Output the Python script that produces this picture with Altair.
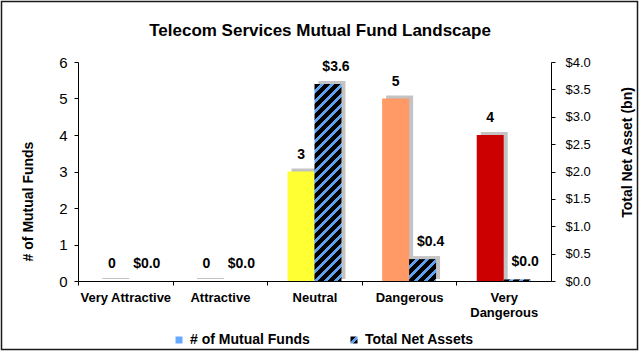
import json
import altair as alt
import pandas as pd

# ---- data ----
categories = ["Very Attractive", "Attractive", "Neutral", "Dangerous", "Very Dangerous"]
fund_counts = [0, 0, 3, 5, 4]
net_assets = [0.0, 0.0, 3.6, 0.4, 0.03]
series_names = ["# of Mutual Funds", "Total Net Assets"]
fund_ticks = [0, 1, 2, 3, 4, 5, 6]
net_ticks = [0, 0.5, 1, 1.5, 2, 2.5, 3, 3.5, 4]
chart_title = "Telecom Services Mutual Fund Landscape"
left_title = "# of Mutual Funds"
right_title = "Total Net Asset (bn)"

# ---- styles ----
FONT = "Liberation Sans"
fund_colors = ["#c8c8c8", "#c8c8c8", "#ffff33", "#ff9966", "#cc0000"]
LEGEND_BLUE = "#66aaff"
HATCH_BLACK = "#000000"
HATCH_BLUE = "#5ea2f0"
SHADOW = "#b4b4b4"

W, H = 473, 219
PAD = {"left": 78, "top": 62, "right": 89, "bottom": 71}
P_INNER = 0.43
FUND_MAX, NET_MAX = 6, 4
SHADOW_DX = 4

funds_df = pd.DataFrame({"category": categories, "series": series_names[0], "value": fund_counts})
net_df = pd.DataFrame({"category": categories, "series": series_names[1], "value": net_assets})

step = W / len(categories)
band_w = step * (1 - P_INNER)
bar_w = band_w / 2


def hatch(w, h, period=10.0, blue=0.4):
    h = max(h, 1.0)
    a = w * (w + h) / (w * w + h * h)
    L = w + h
    stops = []
    p = 0.0
    while p < L:
        s = min(p / L, 1.0)
        b = min((p + period * (1 - blue)) / L, 1.0)
        e = min((p + period) / L, 1.0)
        stops += [
            {"offset": round(s, 5), "color": HATCH_BLACK},
            {"offset": round(b, 5), "color": HATCH_BLACK},
            {"offset": round(b, 5), "color": HATCH_BLUE},
            {"offset": round(e, 5), "color": HATCH_BLUE},
        ]
        p += period
    return {"gradient": "linear", "x1": 0, "y1": 0, "x2": round(a, 5),
            "y2": round(a * h / w, 5), "stops": stops}


legend_grad_expr = json.dumps(hatch(7, 7, period=9.0, blue=0.35))

color_scale = alt.Scale(domain=series_names, range=[LEGEND_BLUE, {"expr": legend_grad_expr}])
legend = alt.Legend(
    title=None, orient="none", legendX=94, legendY=271, direction="horizontal",
    symbolType="square", symbolSize=49, symbolStrokeWidth=0,
    labelFont=FONT, labelFontSize=14, labelFontWeight="bold", labelColor="#000000",
    labelOffset=4, columnPadding=37,
)

fund_cond = [{"test": f"datum.category === {json.dumps(c)}", "value": col}
             for c, col in zip(categories, fund_colors)]
net_cond = [{"test": f"datum.category === {json.dumps(c)}",
             "value": hatch(bar_w, v / NET_MAX * H)}
            for c, v in zip(categories, net_assets)]

x_enc = alt.X(
    "category:N", sort=categories,
    scale=alt.Scale(paddingInner=P_INNER, paddingOuter=P_INNER / 2),
    axis=alt.Axis(
        title=None, labelAngle=0, labelFont=FONT, labelFontSize=13, labelFontWeight="bold",
        labelColor="#000000", labelPadding=6, tickSize=4, tickColor="#000000",
        domainColor="#000000", tickOffset=-step / 2, labelOffset=step / 2,
        labelExpr="datum.label == 'Very Dangerous' ? ['Very', 'Dangerous'] : datum.label",
        labelLineHeight=15,
    ),
)
xoff_enc = alt.XOffset("series:N", scale=alt.Scale(
    type="band", domain=series_names, range=[0, band_w], paddingInner=0, paddingOuter=0))
xoff_shadow = alt.XOffset("series:N", scale=alt.Scale(
    type="band", domain=series_names, range=[SHADOW_DX, band_w + SHADOW_DX],
    paddingInner=0, paddingOuter=0))
xoff_text = alt.XOffset("series:N", scale=alt.Scale(
    type="point", domain=series_names, range=[0, band_w], padding=0.5))

fund_y = alt.Y(
    "value:Q", scale=alt.Scale(domain=[0, FUND_MAX], nice=False),
    axis=alt.Axis(
        orient="left", values=fund_ticks, format="d", grid=False,
        labelFont=FONT, labelFontSize=15, labelColor="#000000", labelPadding=7,
        tickSize=4, tickColor="#000000", domainColor="#000000",
        title=left_title, titleFont=FONT, titleFontSize=14, titleFontWeight="bold",
        titleColor="#000000", titleAngle=270, titleX=-50, titleY=139,
        titleAlign="center", titleBaseline="middle",
    ),
)
net_y = alt.Y(
    "value:Q", scale=alt.Scale(domain=[0, NET_MAX], nice=False),
    axis=alt.Axis(
        orient="right", values=net_ticks, format="$.1f", grid=False,
        labelFont=FONT, labelFontSize=13, labelColor="#000000", labelPadding=10,
        tickSize=4, tickColor="#000000", domainColor="#000000",
        title=right_title, titleFont=FONT, titleFontSize=14, titleFontWeight="bold",
        titleColor="#000000", titleAngle=270, titleX=76, titleY=90,
        titleAlign="center", titleBaseline="middle",
    ),
)

shadow_kw = dict(color=SHADOW, opacity=0.8, yOffset=-3, y2Offset=-2)

fund_shadow = alt.Chart(funds_df).mark_bar(**shadow_kw).encode(
    x=x_enc, xOffset=xoff_shadow, y=fund_y, y2=alt.datum(0))
fund_bars = alt.Chart(funds_df).mark_bar().encode(
    x=x_enc, xOffset=xoff_enc, y=fund_y,
    color=alt.Color("series:N", scale=color_scale, legend=legend, condition=fund_cond),
)
fund_text = alt.Chart(funds_df).mark_text(
    font=FONT, fontSize=14, fontWeight="bold", color="#000000", baseline="bottom", dy=-10
).encode(x=x_enc, xOffset=xoff_text, y=fund_y, text=alt.Text("value:Q", format="d"))

net_shadow = alt.Chart(net_df).transform_filter("datum.value > 0.05").mark_bar(**shadow_kw).encode(
    x=x_enc, xOffset=xoff_shadow, y=net_y, y2=alt.datum(0))
net_bars = alt.Chart(net_df).mark_bar().encode(
    x=x_enc, xOffset=xoff_enc, y=net_y,
    color=alt.Color("series:N", scale=color_scale, legend=legend, condition=net_cond),
)
net_text = alt.Chart(net_df).mark_text(
    font=FONT, fontSize=14, fontWeight="bold", color="#000000", baseline="bottom", dy=-10, dx=8
).encode(x=x_enc, xOffset=xoff_text, y=net_y, text=alt.Text("value:Q", format="$.1f"))

fund_group = alt.layer(fund_shadow, fund_bars, fund_text).resolve_scale(xOffset="independent")
net_group = alt.layer(net_shadow, net_bars, net_text).resolve_scale(xOffset="independent")

frame = alt.Chart(alt.Data(values=[{}])).mark_rect(
    filled=False, stroke="#1a1a1a", strokeWidth=1.5
).encode(
    x=alt.value(1.5 - PAD["left"]), x2=alt.value(W + PAD["right"] - 2.5),
    y=alt.value(1.5 - PAD["top"]), y2=alt.value(H + PAD["bottom"] - 2.5),
)

chart = alt.layer(fund_group, net_group, frame).resolve_scale(
    y="independent", xOffset="independent"
).properties(
    width=W, height=H, padding=PAD, autosize=alt.AutoSizeParams(type="none"),
    background="#ffffff",
    title=alt.TitleParams(chart_title, font=FONT, fontSize=17, fontWeight="bold",
                          color="#000000", anchor="middle", dx=5.5, offset=-39),
).configure_view(stroke=None)

chart.save("out.html", embed_options={"renderer": "svg", "actions": False})
